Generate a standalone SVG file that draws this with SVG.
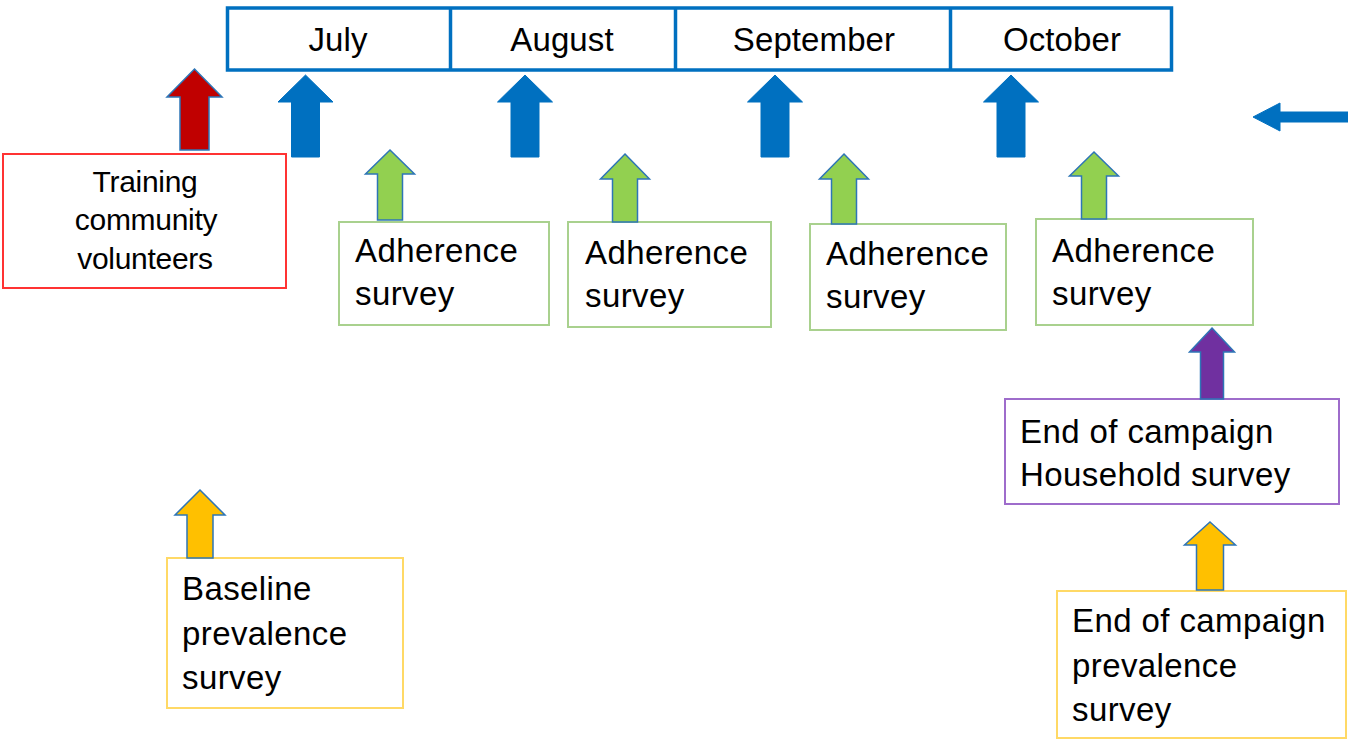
<svg xmlns="http://www.w3.org/2000/svg" width="1348" height="740" viewBox="0 0 1348 740">
<style>
  text { font-family: "Liberation Sans", Arial, Helvetica, sans-serif; fill: #000; }
  .month { font-size: 33px; text-anchor: middle; letter-spacing: 0.1px; }
  .body { font-size: 33px; letter-spacing: 0.4px; }
  .train { font-size: 30px; text-anchor: middle; letter-spacing: -0.3px; }
  .box { fill: #fff; stroke-width: 2; }
  .bar { fill: #fff; stroke: #0070C0; stroke-width: 3.5; }
  .arr { stroke: #2E75B6; stroke-width: 1.5; stroke-linejoin: miter; }
  .blue { fill: #0070C0; stroke: #0070C0; stroke-width: 1; }
  .red { fill: #C00000; }
  .green { fill: #92D050; }
  .purple { fill: #7030A0; }
  .yellow { fill: #FFC000; }
</style>

<g id="timeline">
  <rect class="bar" x="227.5" y="8" width="944" height="62"/>
  <line x1="450.5" y1="8" x2="450.5" y2="70" stroke="#0070C0" stroke-width="3.5"/>
  <line x1="675.5" y1="8" x2="675.5" y2="70" stroke="#0070C0" stroke-width="3.5"/>
  <line x1="950.5" y1="8" x2="950.5" y2="70" stroke="#0070C0" stroke-width="3.5"/>
  <text class="month" x="338" y="51">July</text>
  <text class="month" x="562" y="51">August</text>
  <text class="month" x="814" y="51">September</text>
  <text class="month" x="1062" y="51">October</text>
</g>

<g id="training">
  <rect class="box" x="3" y="154" width="283" height="134" stroke="#FF3333"/>
  <text class="train" x="145" y="192">Training</text>
  <text class="train" x="146" y="230">community</text>
  <text class="train" x="145" y="269">volunteers</text>
</g>

<g id="adherence1">
  <rect class="box" x="339" y="222" width="210" height="103" stroke="#A9D18E"/>
  <text class="body" x="355" y="262">Adherence</text>
  <text class="body" x="355" y="305">survey</text>
</g>

<g id="adherence2">
  <rect class="box" x="568" y="222" width="203" height="105" stroke="#A9D18E"/>
  <text class="body" x="585" y="264">Adherence</text>
  <text class="body" x="585" y="307">survey</text>
</g>

<g id="adherence3">
  <rect class="box" x="810" y="224" width="196" height="106" stroke="#A9D18E"/>
  <text class="body" x="826" y="265">Adherence</text>
  <text class="body" x="826" y="308">survey</text>
</g>

<g id="adherence4">
  <rect class="box" x="1036" y="219" width="217" height="106" stroke="#A9D18E"/>
  <text class="body" x="1052" y="262">Adherence</text>
  <text class="body" x="1052" y="305">survey</text>
</g>

<g id="household">
  <rect class="box" x="1005" y="399" width="334" height="105" stroke="#9E6CCB"/>
  <text class="body" x="1020" y="443">End of campaign</text>
  <text class="body" x="1020" y="486">Household survey</text>
</g>

<g id="baseline">
  <rect class="box" x="167" y="558" width="236" height="150" stroke="#FFD966"/>
  <text class="body" x="182" y="600">Baseline</text>
  <text class="body" x="182" y="645">prevalence</text>
  <text class="body" x="182" y="689">survey</text>
</g>

<g id="endprevalence">
  <rect class="box" x="1057" y="591" width="289" height="147" stroke="#FFD966"/>
  <text class="body" x="1072" y="632">End of campaign</text>
  <text class="body" x="1072" y="677">prevalence</text>
  <text class="body" x="1072" y="721">survey</text>
</g>

<g id="connectors">
  <polygon class="blue" points="305.5,75 333,102 319.5,102 319.5,157 291.5,157 291.5,102 278,102"/>
  <polygon class="blue" points="525,75 552.5,102 539,102 539,157 511,157 511,102 497.5,102"/>
  <polygon class="blue" points="775,75 802.5,102 789,102 789,157 761,157 761,102 747.5,102"/>
  <polygon class="blue" points="1011,75 1038.5,102 1025,102 1025,157 997,157 997,102 983.5,102"/>
  <polygon class="arr red" points="194.5,69 222,97 209,97 209,150 180,150 180,97 167,97"/>
  <polygon class="arr green" points="390,150 414.5,174 402.5,174 402.5,220 377.5,220 377.5,174 365.5,174"/>
  <polygon class="arr green" points="625,154 649.5,179 637.5,179 637.5,222 612.5,222 612.5,179 600.5,179"/>
  <polygon class="arr green" points="844,154 868.5,179 856.5,179 856.5,224 831.5,224 831.5,179 819.5,179"/>
  <polygon class="arr green" points="1094,152 1118.5,176 1106.5,176 1106.5,219 1081.5,219 1081.5,176 1069.5,176"/>
  <polygon class="arr purple" points="1212,328 1234.5,352 1223.5,352 1223.5,399 1200.5,399 1200.5,352 1189.5,352"/>
  <polygon class="arr yellow" points="200,490 225,515 213,515 213,558 187,558 187,515 175,515"/>
  <polygon class="arr yellow" points="1210,522 1235.5,545 1223.5,545 1223.5,590 1196.5,590 1196.5,545 1184.5,545"/>
  <polygon class="blue" points="1253,117 1280,103 1280,112 1348,112 1348,122 1280,122 1280,131"/>
</g>
</svg>
